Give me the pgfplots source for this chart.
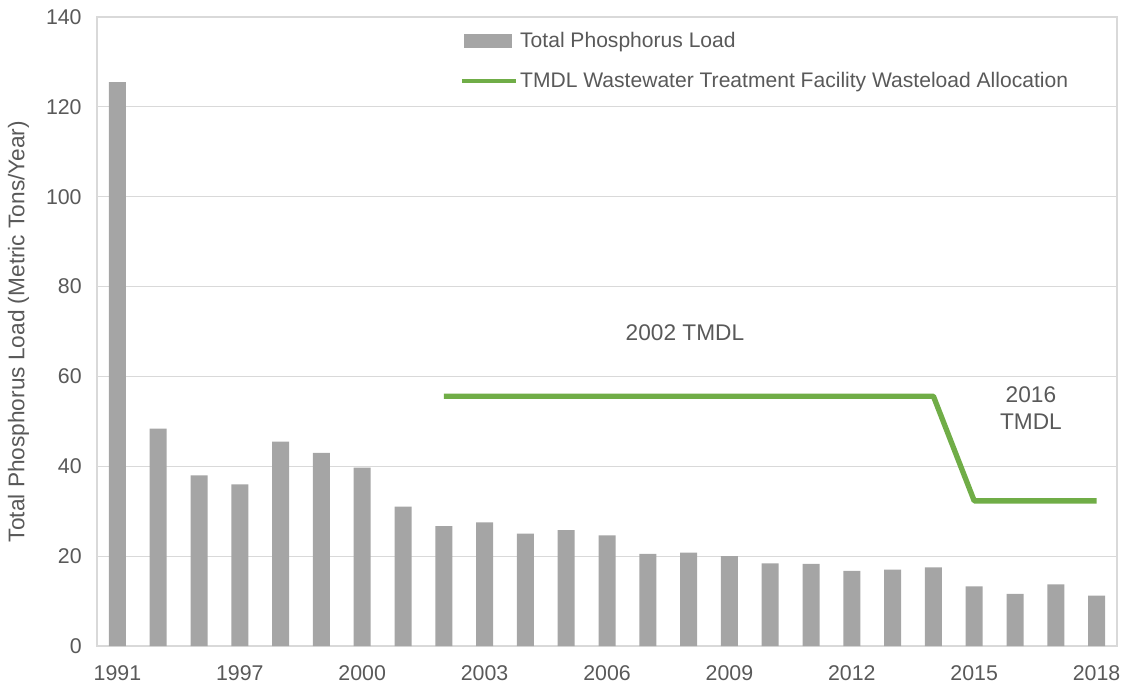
\documentclass[border=0pt]{standalone}
\usepackage{pgfplots}
\pgfplotsset{compat=1.18}
\usepackage{fontspec}
\setmainfont{Liberation Sans}

\definecolor{bargray}{HTML}{A5A5A5}
\definecolor{tmdlgreen}{HTML}{70AD47}
\definecolor{txtgray}{HTML}{595959}
\definecolor{gridgray}{HTML}{D9D9D9}

\begin{document}
\begin{tikzpicture}
\begin{axis}[
    scale only axis,
    width=765pt,
    height=471.75pt,
    xmin=-0.5, xmax=24.5,
    ymin=0, ymax=140,
    ytick={0,20,...,140},
    xtick={0,3,...,24},
    xticklabels={1991,1997,2000,2003,2006,2009,2012,2015,2018},
    major tick length=0pt,
    axis line style={gridgray, line width=0.8pt},
    ymajorgrids,
    grid style={gridgray, line width=0.8pt},
    tick label style={font=\fontsize{16}{18}\selectfont, text=txtgray},
    xticklabel style={yshift=-11pt},
    yticklabel style={xshift=-8pt},
    /pgf/number format/assume math mode=true,
    ylabel={Total Phosphorus Load (Metric Tons/Year)},
    ylabel style={font=\fontsize{17}{19}\selectfont, text=txtgray,
        at={(axis description cs:-0.077,0.5)}, anchor=center},
    legend style={at={(0.355,0.98)}, anchor=north west, draw=none, fill=none,
        inner sep=0pt, font=\fontsize{15.8}{18}\selectfont, text=txtgray,
        row sep=13pt, nodes={inner xsep=1pt}},
    legend cell align=left,
]

% Total phosphorus load (bars)
\addplot[ybar, bar width=12.75pt, fill=bargray, draw=none,
    legend image code/.code={\fill[bargray] (0pt,-5pt) rectangle (36pt,5pt);}]
coordinates{
(0,125.5) (1,48.4) (2,38.0) (3,36.0) (4,45.5) (5,43.0) (6,39.7)
(7,31.0) (8,26.7) (9,27.5) (10,25.0) (11,25.8) (12,24.6) (13,20.5)
(14,20.8) (15,20.0) (16,18.4) (17,18.3) (18,16.7) (19,17.0) (20,17.5)
(21,13.3) (22,11.6) (23,13.7) (24,11.2)
};
\addlegendentry{Total Phosphorus Load}

% TMDL wasteload allocation
\addplot[tmdlgreen, line width=4pt, line join=round,
    legend image code/.code={\draw[tmdlgreen, line width=3.6pt] (-2pt,0pt) -- (39pt,0pt);}]
coordinates{
(8,55.6) (20,55.6) (21,32.3) (24,32.3)
};
\addlegendentry{TMDL Wastewater Treatment Facility Wasteload Allocation}

\node[font=\fontsize{17}{19}\selectfont, text=txtgray] at (axis cs:13.91,69.7) {2002 TMDL};
\node[font=\fontsize{17}{19}\selectfont, text=txtgray, align=center] at (axis cs:22.39,53.0) {2016\\[1pt]TMDL};
\end{axis}
\pgfresetboundingbox
\useasboundingbox (-72.75pt,-27.75pt) rectangle (769.5pt,484.5pt);
\end{tikzpicture}
\end{document}
